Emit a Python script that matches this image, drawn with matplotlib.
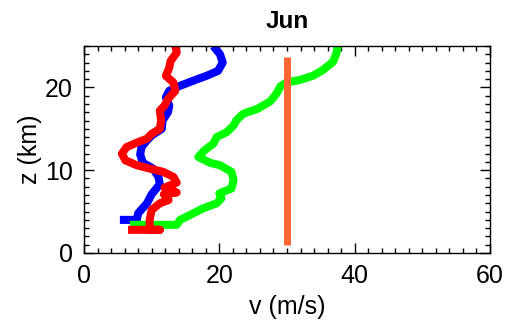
import matplotlib
matplotlib.use("Agg")
import matplotlib.pyplot as plt
from matplotlib.ticker import MultipleLocator

plt.rcParams['font.family'] = ['Liberation Sans', 'DejaVu Sans']

# --- Data ---
blue_v = [5.3, 7.8, 8.0, 9.3, 10.0, 11.2, 11.0, 10.2, 8.7, 8.3, 8.5, 9.3, 10.0, 11.5,
          11.6, 12.4, 12.6, 12.1, 12.6, 14.2, 16.1, 18.1, 19.8, 20.5, 20.1, 19.1]
blue_z = [4.0, 4.0, 4.8, 6.0, 7.1, 8.3, 9.2, 10.2, 10.9, 11.9, 12.8, 13.6, 14.2, 15.0,
          16.0, 17.0, 17.8, 18.8, 19.6, 20.2, 20.8, 21.4, 22.0, 23.0, 24.0, 25.0]

red_v = [6.5, 11.2, 9.7, 9.7, 10.0, 11.2, 12.5, 11.8, 13.7, 11.9, 13.7, 13.2, 11.7,
         9.7, 7.8, 6.1, 5.6, 6.3, 8.0, 9.3, 10.0, 11.2, 11.4, 11.2, 11.9, 12.4, 13.5,
         13.2, 12.1, 12.6, 12.8, 13.7, 13.5]
red_z = [2.8, 2.8, 2.8, 4.0, 5.2, 6.0, 6.4, 7.1, 7.3, 7.9, 8.5, 9.2, 9.8,
         10.2, 10.6, 11.2, 12.0, 12.8, 13.4, 13.8, 14.4, 15.0, 16.0, 17.2, 17.8, 18.6, 19.6,
         20.6, 21.4, 22.4, 23.2, 24.2, 25.0]

green_v = [6.8, 13.7, 14.2, 15.7, 17.6, 19.6, 20.3, 20.0, 21.8, 22.1, 21.8, 20.1, 18.6,
           16.9, 17.8, 19.1, 19.6, 21.1, 22.1, 22.5, 23.5, 24.5, 25.6, 27.5, 28.5, 29.0,
           29.9, 31.9, 33.8, 35.3, 36.8, 37.3, 37.5]
green_z = [3.4, 3.4, 4.0, 4.6, 5.4, 6.0, 6.6, 7.2, 7.8, 8.8, 9.8, 10.6, 10.9,
           11.6, 12.4, 13.2, 14.0, 14.6, 15.4, 16.0, 16.8, 17.1, 17.4, 18.3, 19.3, 20.1,
           20.6, 20.9, 21.4, 22.1, 23.1, 24.1, 25.0]

orange_v = [30.0, 30.0]
orange_z = [1.0, 23.7]

# --- Plot ---
fig = plt.figure(figsize=(5.07, 3.22), dpi=100)
ax = fig.add_axes([0.1657, 0.2143, 0.8008, 0.6427])

lw = 5.8
ax.plot(blue_v, blue_z, color='#0000ff', lw=lw, solid_capstyle='butt', solid_joinstyle='round')
ax.plot(green_v, green_z, color='#00ff00', lw=lw, solid_capstyle='butt', solid_joinstyle='round')
ax.plot(red_v, red_z, color='#ff0000', lw=lw, solid_capstyle='butt', solid_joinstyle='round')
ax.plot(orange_v, orange_z, color='#ff6633', lw=5, solid_capstyle='butt')

ax.set_xlim(0, 60)
ax.set_ylim(0, 25)
ax.xaxis.set_major_locator(MultipleLocator(20))
ax.xaxis.set_minor_locator(MultipleLocator(2))
ax.yaxis.set_major_locator(MultipleLocator(10))
ax.yaxis.set_minor_locator(MultipleLocator(1))
ax.tick_params(which='both', direction='in', top=True, right=True, labelsize=18, width=1)
ax.tick_params(which='major', length=7, pad=8)
ax.tick_params(which='minor', length=3.5)
for s in ax.spines.values():
    s.set_linewidth(1)

ax.set_xlabel("v (m/s)", fontsize=18, labelpad=5)
ax.set_ylabel("z (km)", fontsize=18, labelpad=2)
ax.set_title("Jun", fontsize=17.5, fontweight='bold', pad=13)

fig.savefig("out.png", dpi=100)
plt.close(fig)
